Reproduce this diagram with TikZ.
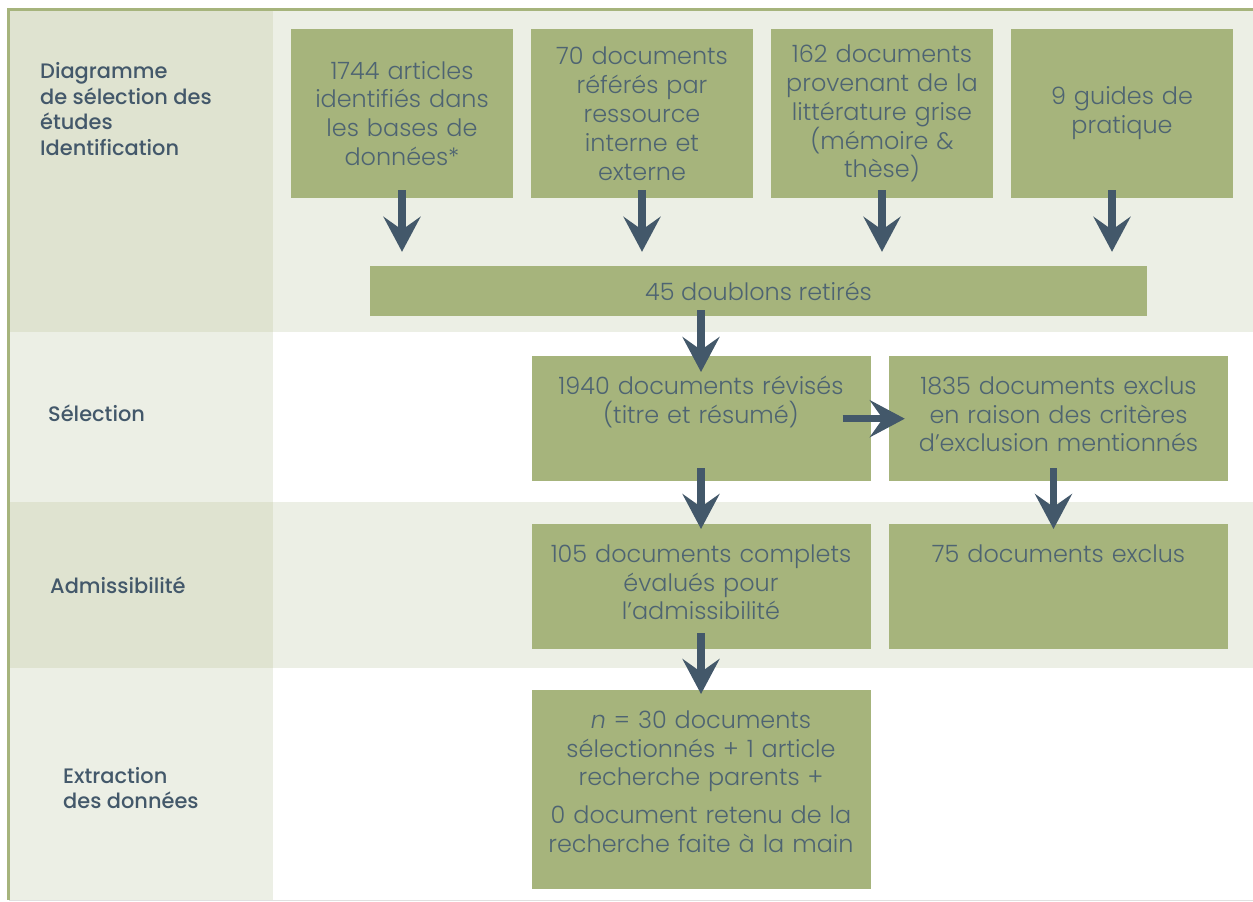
\documentclass[tikz,border=0pt]{standalone}
\usepackage{fontspec}
\setmainfont{Poppins}[UprightFont=* Light, BoldFont=* Medium]
\usetikzlibrary{arrows.meta, positioning}
\definecolor{BoxGreen}{RGB}{166,180,124}
\definecolor{BandLight}{RGB}{236,239,229}
\definecolor{BandDark}{RGB}{223,227,208}
\definecolor{Slate}{RGB}{67,88,106}
\definecolor{SlateText}{RGB}{78,100,114}
\begin{document}
\begin{tikzpicture}[x=1bp, y=-1bp,
    every node/.style={font=\fontsize{24}{29}\selectfont, text=SlateText},
    srcbox/.style={fill=BoxGreen, minimum width=222bp, minimum height=169bp, text width=215bp, align=center, inner sep=0pt},
    topbox/.style={fill=BoxGreen, text width=339bp, align=center, inner sep=0pt, text height=38bp, anchor=north},
    phase/.style={font=\fontsize{21}{25.5}\selectfont\bfseries, text=Slate, align=left, anchor=west, inner sep=0pt},
    flow/.style={-{Stealth[length=35bp, width=37bp, inset=13bp]}, line width=7.5bp, draw=Slate}
]
\useasboundingbox (0,0) rectangle (1253,902);
% bands
\fill[BandDark] (9,10) rectangle (273,332);
\fill[BandLight] (273,10) rectangle (1253,332);
\fill[BandLight] (9,332) rectangle (273,502);
\fill[BandDark] (9,502) rectangle (273,668);
\fill[BandLight] (273,502) rectangle (1253,668);
\fill[BandLight] (9,668) rectangle (273,900);
\draw[black!12, line width=1.5bp] (9,900.5) -- (1253,900.5);
\draw[BoxGreen, line width=2.5bp] (8.5,900) -- (8.5,9.5) -- (1253,9.5);

\node[phase] (ident) at (40,109) {Diagramme\\de sélection des\\études\\Identification};
\node[phase] (sel) at (48,413) {Sélection};
\node[phase] (adm) at (50,585) {Admissibilité};
\node[phase] (extr) at (63,788) {Extraction\\des données};

\node[srcbox] (src1) at (402,113.5) {1744 articles\\identifiés dans\\les bases de\\données*};
\node[srcbox] (src2) at (642,113.5) {70 documents\\référés par\\ressource\\interne et\\externe};
\node[srcbox] (src3) at (882,113.5) {162 documents\\provenant de la\\littérature grise\\(mémoire \&\\thèse)};
\node[srcbox] (src4) at (1122,113.5) {9 guides de\\pratique};
\node[fill=BoxGreen, minimum width=777bp, minimum height=50bp, inner sep=0pt] (dbl) at (758.5,291) {45 doublons retirés};
\node[topbox, text depth=87bp] (rev) at (701,356) {1940 documents révisés\\(titre et résumé)};
\node[topbox, text depth=87bp] (excl1) at (1058.5,356) {1835 documents exclus\\en raison des critères\\d’exclusion mentionnés};
\node[topbox, text depth=87bp] (full) at (701,524) {105 documents complets\\évalués pour\\l’admissibilité};
\node[topbox, text depth=87bp] (excl2) at (1058.5,524) {75 documents exclus};
\node[topbox, text depth=161bp] (final) at (701,690) {\textit{n} = 30 documents\\sélectionnés + 1 article\\recherche parents +\\[9bp]0 document retenu de la\\recherche faite à la main};

\draw[flow, shorten <=-8bp, shorten >=14bp] (src1.south) -- (src1.south |- dbl.north);
\draw[flow, shorten <=-8bp, shorten >=14bp] (src2.south) -- (src2.south |- dbl.north);
\draw[flow, shorten <=-8bp, shorten >=14bp] (src3.south) -- (src3.south |- dbl.north);
\draw[flow, shorten <=-8bp, shorten >=14bp] ([xshift=-10bp]src4.south) -- ([xshift=-10bp]src4.south |- dbl.north);
\draw[flow, shorten <=-6bp, shorten >=-16bp] (rev.north |- dbl.south) -- (rev.north);
\draw[flow, shorten <=-28bp, shorten >=-16bp] (rev) -- (excl1);
\draw[flow, shorten <=-13bp, shorten >=-5bp] (rev) -- (full);
\draw[flow, shorten <=-13bp, shorten >=-5bp] ([xshift=-5bp]excl1.south) -- ([xshift=-5bp]excl1.south |- excl2.north);
\draw[flow, shorten <=-16bp, shorten >=-4bp] (full) -- (final);
\end{tikzpicture}
\end{document}
